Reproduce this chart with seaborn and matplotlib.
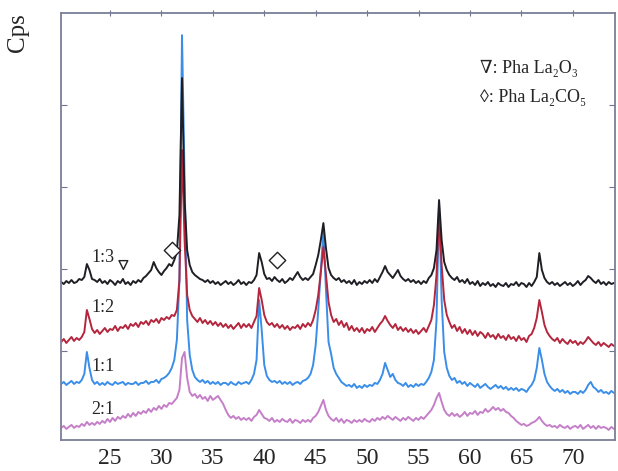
import numpy as np
import pandas as pd
import matplotlib
matplotlib.use("Agg")
import matplotlib.pyplot as plt
import seaborn as sns

# 2-theta grid, 0.25 deg steps from 20.25 to 74.0
two_theta = np.arange(20.25, 74.001, 0.25)

# intensities (arbitrary units, traces already offset)
i_13 = [158, 156, 159, 157,  160, 157, 158, 161,  160, 163, 176, 170,  161, 160, 158, 161,
        157, 159, 156, 160,  158, 155, 159, 157,  161, 156, 158, 155,  159, 157, 160, 158,
        162, 164, 167, 170,  178, 172, 168, 165,  169, 172, 176, 174,  180, 188, 225, 362,
        240, 190, 175, 168,  165, 163, 161, 160,  158, 160, 157, 159,  156, 158, 155, 157,
        159, 156, 158, 155,  157, 160, 156, 158,  155, 158, 157, 160,  165, 187, 178, 166,
        161, 162, 159, 163,  160, 158, 161, 157,  159, 162, 160, 164,  168, 163, 160, 162,
        160, 163, 166, 175,  185, 200, 217, 192,  172, 165, 162, 160,  162, 158, 160, 157,
        159, 156, 160, 155,  158, 156, 159, 157,  160, 157, 161, 158,  163, 168, 174, 168,
        165, 162, 166, 170,  164, 161, 159, 161,  158, 160, 157, 159,  156, 159, 157, 162,
        165, 172, 190, 240,  200, 178, 170, 165,  162, 160, 163, 158,  160, 157, 161, 156,
        158, 155, 159, 154,  157, 155, 158, 154,  156, 153, 157, 155,  154, 157, 153, 156,
        155, 158, 154, 157,  156, 153, 157, 154,  158, 163, 187, 170,  162, 158, 156, 158,
        155, 157, 154, 156,  158, 155, 157, 154,  156, 159, 155, 158,  160, 164, 162, 159,
        157, 160, 156, 158,  155, 158, 156, 157]
i_12 = [98, 101, 97, 100,  103, 99, 102, 100,  103, 108, 130, 121,  111, 107, 110, 106,
        109, 112, 108, 111,  110, 114, 109, 113,  112, 115, 111, 116,  114, 117, 113, 118,
        116, 119, 115, 120,  118, 121, 117, 122,  120, 123, 121, 125,  124, 130, 160, 290,
        200, 145, 130, 124,  121, 118, 122, 117,  120, 116, 119, 115,  118, 114, 117, 113,
        116, 112, 115, 111,  114, 117, 112, 116,  113, 116, 112, 118,  124, 152, 140, 125,
        118, 115, 117, 113,  116, 112, 115, 111,  114, 110, 113, 112,  115, 111, 116, 113,
        117, 114, 120, 130,  145, 168, 193, 165,  138, 125, 118, 121,  115, 119, 113, 117,
        110, 114, 109, 112,  108, 112, 107, 111,  109, 113, 108, 112,  116, 119, 124, 119,
        115, 112, 116, 110,  113, 109, 112, 108,  111, 107, 110, 106,  109, 112, 108, 114,
        120, 135, 165, 225,  175, 140, 125, 118,  112, 115, 109, 113,  107, 111, 106, 110,
        105, 109, 104, 108,  106, 102, 107, 103,  105, 101, 106, 102,  104, 100, 105, 101,
        103, 99, 104, 100,  102, 98, 104, 106,  112, 122, 140, 128,  115, 108, 104, 101,
        99, 102, 97, 101,  98, 96, 100, 97,  99, 95, 98, 96,  99, 103, 100, 97,
        95, 98, 94, 97,  95, 93, 96, 94]
i_11 = [56, 58, 55, 57,  59, 56, 58, 57,  60, 66, 88, 72,  60, 56, 58, 55,
        57, 55, 58, 56,  55, 58, 56, 57,  58, 55, 57, 56,  56, 58, 55, 57,
        57, 59, 56, 58,  58, 60, 57, 61,  62, 64, 67, 72,  80, 100, 160, 405,
        260, 120, 85, 70,  63, 60, 58, 60,  57, 59, 56, 58,  56, 58, 55, 57,
        57, 55, 58, 56,  55, 58, 56, 57,  58, 56, 60, 66,  80, 140, 110, 75,
        64, 60, 58, 59,  57, 59, 56, 58,  56, 58, 55, 57,  58, 56, 59, 60,
        62, 66, 75, 95,  130, 170, 208, 150,  98, 86, 72, 66,  62, 58, 56, 54,
        55, 53, 56, 52,  54, 52, 55, 53,  55, 54, 57, 56,  60, 66, 77, 70,
        63, 66, 60, 57,  56, 54, 57, 53,  55, 53, 56, 54,  56, 55, 58, 62,
        68, 80, 120, 235,  140, 88, 72, 64,  60, 62, 57, 59,  56, 58, 54, 57,
        55, 53, 56, 52,  54, 56, 53, 51,  53, 55, 52, 54,  51, 53, 50, 52,
        50, 52, 49, 51,  50, 48, 52, 55,  60, 72, 92, 80,  66, 58, 54, 51,
        49, 51, 48, 50,  47, 49, 46, 48,  48, 46, 49, 47,  50, 55, 58, 53,
        51, 48, 50, 47,  48, 46, 49, 47]
i_21 = [12, 14, 11, 13,  15, 12, 14, 13,  16, 14, 18, 15,  17, 15, 18, 16,
        19, 17, 21, 18,  22, 19, 23, 21,  24, 22, 26, 23,  27, 24, 28, 26,
        29, 27, 31, 28,  32, 30, 34, 31,  35, 33, 37, 36,  39, 42, 50, 82,
        88, 62, 48, 44,  46, 42, 45, 41,  43, 39, 44, 40,  42, 44, 40, 36,
        30, 25, 22, 24,  21, 23, 20, 22,  20, 22, 19, 23,  25, 30, 26, 22,
        21, 19, 22, 18,  20, 18, 21, 19,  18, 21, 17, 20,  19, 17, 20, 18,
        20, 18, 22, 24,  28, 34, 40, 30,  24, 21, 19, 22,  18, 21, 17, 20,
        19, 17, 20, 18,  20, 18, 21, 19,  18, 21, 19, 22,  20, 23, 21, 24,
        22, 20, 23, 21,  19, 22, 20, 23,  21, 19, 22, 20,  23, 21, 24, 27,
        30, 35, 42, 47,  38, 30, 26, 24,  27, 24, 26, 23,  25, 28, 24, 27,
        26, 29, 25, 28,  27, 31, 28, 30,  33, 30, 32, 29,  31, 28, 27, 24,
        22, 19, 17, 15,  16, 14, 15, 17,  18, 20, 23, 19,  16, 14, 15, 13,
        14, 12, 15, 13,  12, 14, 11, 13,  14, 12, 15, 11,  13, 15, 12, 14,
        11, 14, 12, 13,  12, 10, 13, 11]

ratios = ["2:1", "1:1", "1:2", "1:3"]
colors = ["#c57fc8", "#3a8ee8", "#b3263d", "#1e1e24"]
label_h = [30, 73, 132, 183]

# phase markers on the 1:3 trace
tri_pos, tri_h = [26.3], [175]
dia_pos, dia_h = [31.0, 41.2], [190, 180]

df = pd.concat([
    pd.DataFrame({"2theta": two_theta, "I": i_21, "ratio": "2:1"}),
    pd.DataFrame({"2theta": two_theta, "I": i_11, "ratio": "1:1"}),
    pd.DataFrame({"2theta": two_theta, "I": i_12, "ratio": "1:2"}),
    pd.DataFrame({"2theta": two_theta, "I": i_13, "ratio": "1:3"}),
])

sns.set_style("white")
plt.rcParams["font.family"] = ["Liberation Serif", "DejaVu Serif"]

fig = plt.figure(figsize=(6.18, 4.71), dpi=100)
ax = fig.add_axes([0.099, 0.066, 0.896, 0.906])

sns.lineplot(data=df, x="2theta", y="I", hue="ratio", hue_order=ratios,
             palette=colors, linewidth=1.4, legend=False, ax=ax, estimator=None)

ax.scatter(tri_pos, tri_h, marker="v", s=40, facecolors="none", edgecolors="#222", linewidths=1.0, zorder=5)
ax.scatter(dia_pos, dia_h, marker="D", s=70, facecolors="white", edgecolors="#222", linewidths=1.0, zorder=5)

for r, h in zip(ratios, label_h):
    ax.text(24.3, h, r, ha="center", va="center", fontsize=13)

ax.text(61.0, 372, "\u2207: Pha La\u2082O\u2083", fontsize=13, va="center")
ax.text(61.0, 343, "\u25ca: Pha La\u2082CO\u2085", fontsize=13, va="center")

ax.set_xlim(20.25, 74.1)
ax.set_ylim(0, 427)
ax.set_xticks(np.arange(25, 71, 5))
ax.set_xticks(np.arange(21, 75, 1), minor=True)
ax.set_yticks([89, 171, 253, 335])
ax.set_yticklabels([])
ax.tick_params(axis="x", which="major", labelsize=17, length=5, direction="inout", top=True, color="#6f7391")
ax.tick_params(axis="x", which="minor", length=3, direction="out", color="#6f7391")
ax.tick_params(axis="y", length=4, direction="in", left=True, right=True, color="#6f7391")
ax.set_xlabel("")
ax.set_ylabel("Cps", fontsize=18)
ax.yaxis.set_label_coords(-0.058, 0.955)
for s in ax.spines.values():
    s.set_color("#7b7f98")
    s.set_linewidth(1.3)

fig.savefig("out.png", dpi=100)
